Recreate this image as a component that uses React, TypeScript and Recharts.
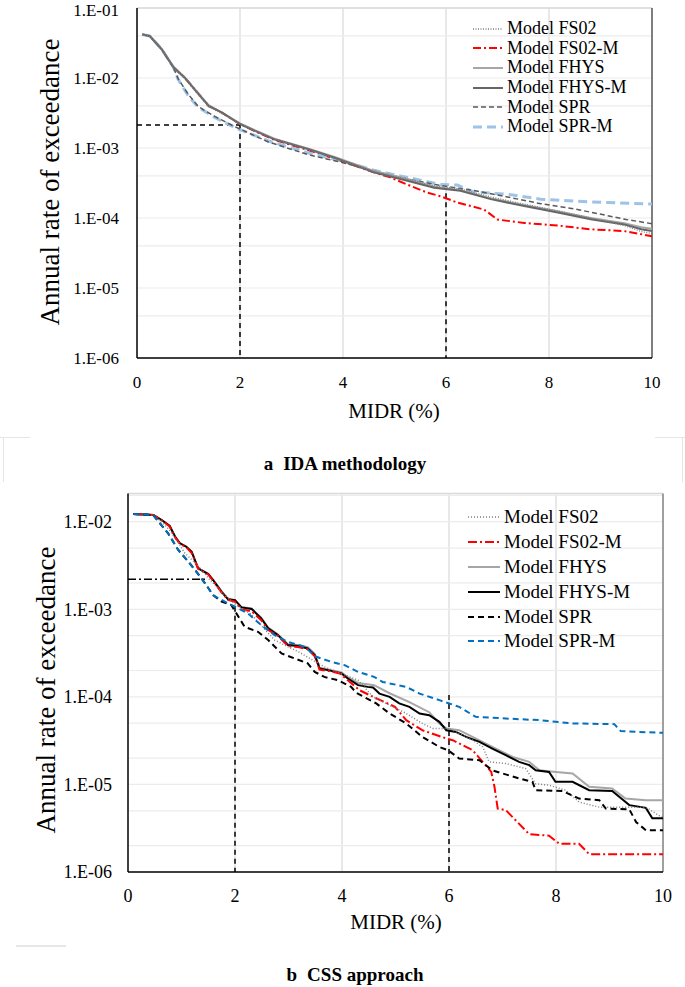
import React from "react";
import { LineChart, Line, XAxis, YAxis, CartesianGrid, ReferenceLine } from "recharts";

type Pt = [number, number];

// ---- panel a : IDA methodology (MIDR %, annual rate)
const A_FS02: Pt[] = [[0.1, 0.042], [0.25, 0.0398], [0.48, 0.0255], [0.71, 0.014], [0.93, 0.0098], [1.17, 0.006], [1.39, 0.0039], [1.65, 0.0031], [2.0, 0.00222], [2.3, 0.00176], [2.68, 0.00134], [3.33, 0.00094], [3.85, 0.00071], [4.6, 0.00046], [5.25, 0.00036], [5.77, 0.00029], [6.28, 0.00026], [6.87, 0.0002], [7.52, 0.000158], [8.17, 0.000126], [8.81, 0.0001], [9.46, 0.000078], [9.79, 0.000064], [10, 0.00006]];
const A_FS02_M: Pt[] = [[0.1, 0.042], [0.25, 0.0398], [0.48, 0.0257], [0.71, 0.0143], [0.93, 0.0101], [1.17, 0.0063], [1.39, 0.004], [1.65, 0.0032], [2.0, 0.0022], [2.3, 0.00172], [2.68, 0.0013], [3.33, 0.00093], [3.85, 0.0007], [4.6, 0.00045], [4.92, 0.00038], [5.25, 0.0003], [5.64, 0.00023], [5.9, 0.000204], [6.22, 0.000166], [6.74, 0.000132], [7.0, 0.000095], [7.52, 0.000085], [8.17, 0.000078], [8.81, 0.000069], [9.46, 0.000065], [10, 0.000055]];
const A_FHYS: Pt[] = [[0.1, 0.042], [0.25, 0.0398], [0.48, 0.026], [0.71, 0.0145], [0.93, 0.0102], [1.17, 0.0063], [1.39, 0.0041], [1.65, 0.0032], [2.0, 0.00225], [2.3, 0.00178], [2.68, 0.00135], [3.33, 0.00098], [3.85, 0.00074], [4.6, 0.00047], [5.25, 0.00036], [5.77, 0.00028], [6.28, 0.00025], [6.87, 0.00019], [7.52, 0.000152], [8.17, 0.000125], [8.81, 0.0001], [9.46, 0.000084], [9.79, 0.000074], [10, 0.00007]];
const A_FHYS_M: Pt[] = [[0.1, 0.042], [0.25, 0.0395], [0.48, 0.0257], [0.71, 0.0141], [0.93, 0.01], [1.17, 0.0062], [1.39, 0.004], [1.65, 0.0032], [2.0, 0.0022], [2.3, 0.00174], [2.68, 0.00132], [3.33, 0.00096], [3.85, 0.00072], [4.6, 0.00045], [5.25, 0.00034], [5.77, 0.00027], [6.28, 0.000245], [6.87, 0.000186], [7.52, 0.000148], [8.17, 0.00012], [8.81, 0.000096], [9.46, 0.000081], [9.79, 0.000069], [10, 0.000065]];
const A_SPR: Pt[] = [[0.1, 0.042], [0.25, 0.0395], [0.48, 0.0255], [0.71, 0.014], [0.8, 0.0097], [1.0, 0.0058], [1.19, 0.0039], [1.52, 0.0028], [1.91, 0.002], [2.55, 0.00122], [3.33, 0.0008], [3.95, 0.00063], [4.6, 0.00047], [5.25, 0.00036], [5.9, 0.00029], [6.5, 0.00025], [7.19, 0.0002], [7.84, 0.00016], [8.49, 0.000135], [9.14, 0.000108], [9.5, 0.000095], [10, 0.000083]];
const A_SPR_M: Pt[] = [[0.1, 0.042], [0.25, 0.0398], [0.48, 0.0257], [0.71, 0.0141], [0.8, 0.0095], [1.0, 0.0055], [1.19, 0.0038], [1.52, 0.0027], [1.91, 0.00195], [2.55, 0.00126], [3.33, 0.00085], [3.95, 0.00066], [4.6, 0.00048], [5.25, 0.00038], [5.9, 0.0003], [6.22, 0.000295], [6.54, 0.000234], [7.19, 0.000219], [7.84, 0.000186], [8.49, 0.000174], [9.14, 0.000166], [10, 0.000158]];
// dashed guides of panel a
const A_GUIDE_H: Pt[] = [[0, 0.00213], [2, 0.00213]];
const A_GUIDE_V2: Pt[] = [[2, 0.00213], [2, 1e-6]];
const A_GUIDE_V6: Pt[] = [[6, 0.000225], [6, 1e-6]];

// ---- panel b : CSS approach
const B_FS02: Pt[] = [[0.1, 0.01225], [0.47, 0.0119], [0.63, 0.01], [0.78, 0.008], [0.97, 0.00542], [1.06, 0.00439], [1.3, 0.0032], [1.5, 0.00228], [1.75, 0.00157], [2.0, 0.00115], [2.3, 0.00088], [2.74, 0.000445], [3.2, 0.000324], [3.67, 0.00022], [4.3, 0.000155], [4.58, 0.0001], [5.2, 0.0000646], [5.5, 0.0000497], [5.7, 0.0000436], [6.0, 0.0000436], [6.19, 0.0000382], [6.44, 0.000032], [6.63, 0.0000268], [6.75, 0.0000181], [7.06, 0.0000173], [7.43, 0.0000152], [7.62, 0.0000102], [7.87, 0.0000098], [8.18, 0.0000086], [8.43, 0.0000063], [8.81, 0.0000055], [9.68, 0.0000055], [9.93, 0.0000044], [10, 0.0000043]];
const B_FS02_M: Pt[] = [[0.1, 0.01225], [0.47, 0.01194], [0.63, 0.0104], [0.78, 0.0088], [0.88, 0.0066], [0.97, 0.0056], [1.09, 0.0051], [1.19, 0.0044], [1.31, 0.0029], [1.5, 0.0025], [1.59, 0.00212], [1.75, 0.00155], [1.87, 0.00128], [2.0, 0.00122], [2.12, 0.001], [2.31, 0.00095], [2.49, 0.00075], [2.62, 0.00058], [2.8, 0.0005], [2.99, 0.00038], [3.18, 0.00037], [3.36, 0.00035], [3.49, 0.00029], [3.58, 0.000205], [3.8, 0.000195], [3.96, 0.000185], [4.33, 0.000119], [4.58, 0.0001], [4.99, 0.0000769], [5.2, 0.0000542], [5.5, 0.0000416], [5.95, 0.0000335], [6.07, 0.000032], [6.44, 0.0000246], [6.63, 0.0000181], [6.79, 0.0000139], [6.85, 0.0000094], [6.91, 0.0000053], [7.06, 0.0000051], [7.5, 0.0000027], [7.87, 0.0000026], [8.06, 0.0000021], [8.43, 0.0000021], [8.62, 0.0000016], [10, 0.0000016]];
const B_FHYS: Pt[] = [[0.1, 0.01225], [0.47, 0.01194], [0.63, 0.01045], [0.78, 0.00893], [0.88, 0.0068], [0.97, 0.0057], [1.09, 0.0052], [1.19, 0.00456], [1.31, 0.00295], [1.5, 0.00254], [1.59, 0.00218], [1.75, 0.0016], [1.87, 0.00131], [2.0, 0.00128], [2.12, 0.00106], [2.31, 0.00102], [2.49, 0.0008], [2.62, 0.00062], [2.8, 0.00052], [2.99, 0.0004], [3.18, 0.00039], [3.36, 0.00037], [3.49, 0.00031], [3.58, 0.000215], [3.8, 0.000202], [3.99, 0.00019], [4.11, 0.000168], [4.3, 0.000144], [4.6, 0.000136], [4.89, 0.00011], [5.26, 0.0000869], [5.63, 0.0000668], [5.82, 0.0000497], [5.95, 0.0000436], [6.19, 0.0000416], [6.44, 0.0000349], [6.81, 0.0000268], [7.19, 0.0000206], [7.5, 0.0000181], [7.69, 0.0000145], [8.0, 0.0000139], [8.31, 0.0000133], [8.62, 0.0000094], [9.05, 0.000009], [9.3, 0.0000069], [9.68, 0.0000066], [10, 0.0000066]];
const B_FHYS_M: Pt[] = [[0.1, 0.01225], [0.47, 0.01194], [0.63, 0.01045], [0.78, 0.00893], [0.88, 0.00674], [0.97, 0.00567], [1.09, 0.00518], [1.19, 0.00454], [1.31, 0.00293], [1.5, 0.00252], [1.59, 0.00216], [1.75, 0.00158], [1.87, 0.0013], [2.0, 0.00127], [2.12, 0.00105], [2.31, 0.00101], [2.49, 0.000787], [2.62, 0.000605], [2.8, 0.000507], [2.99, 0.00039], [3.18, 0.00038], [3.36, 0.000357], [3.49, 0.0003], [3.58, 0.000211], [3.8, 0.000198], [3.99, 0.000185], [4.11, 0.000162], [4.3, 0.000136], [4.48, 0.00013], [4.58, 0.000128], [4.7, 0.000109], [4.89, 0.0001], [5.07, 0.0000841], [5.26, 0.0000769], [5.45, 0.0000646], [5.63, 0.0000618], [5.82, 0.0000518], [5.95, 0.0000416], [6.13, 0.0000398], [6.32, 0.0000349], [6.57, 0.0000306], [6.81, 0.0000257], [7.06, 0.0000216], [7.31, 0.0000181], [7.5, 0.0000166], [7.62, 0.0000145], [7.87, 0.0000139], [7.99, 0.0000107], [8.31, 0.0000107], [8.62, 0.0000086], [9.05, 0.0000084], [9.37, 0.0000058], [9.68, 0.0000054], [9.8, 0.0000041], [10, 0.0000041]];
const B_SPR: Pt[] = [[0.1, 0.01225], [0.47, 0.01194], [0.75, 0.00737], [0.94, 0.00475], [1.13, 0.00349], [1.28, 0.00268], [1.44, 0.00198], [1.59, 0.00145], [1.75, 0.00122], [1.93, 0.00112], [2.18, 0.000631], [2.43, 0.000553], [2.62, 0.000445], [2.87, 0.000313], [3.11, 0.000275], [3.36, 0.000241], [3.49, 0.000193], [3.67, 0.000169], [3.92, 0.000155], [4.17, 0.00013], [4.27, 0.000111], [4.64, 0.0000841], [4.89, 0.0000646], [5.2, 0.0000497], [5.5, 0.0000349], [5.82, 0.0000268], [5.98, 0.0000246], [6.19, 0.0000198], [6.57, 0.0000189], [6.81, 0.0000145], [7.31, 0.0000117], [7.56, 0.0000107], [7.62, 0.0000086], [8.12, 0.0000084], [8.43, 0.0000069], [8.81, 0.0000066], [8.93, 0.0000053], [9.37, 0.0000052], [9.5, 0.0000037], [9.68, 0.000003], [10, 0.000003]];
const B_SPR_M: Pt[] = [[0.1, 0.01225], [0.47, 0.01194], [0.75, 0.00737], [0.94, 0.00475], [1.13, 0.00349], [1.28, 0.00268], [1.44, 0.00198], [1.59, 0.00145], [1.81, 0.00122], [2.0, 0.00107], [2.24, 0.000898], [2.49, 0.000659], [2.74, 0.000507], [2.99, 0.000425], [3.3, 0.000373], [3.52, 0.000287], [3.8, 0.000251], [4.05, 0.00023], [4.3, 0.000193], [4.6, 0.000169], [4.76, 0.000148], [5.2, 0.00013], [5.45, 0.000109], [5.82, 0.0000917], [6.19, 0.0000769], [6.5, 0.0000591], [7.06, 0.0000566], [7.69, 0.0000542], [8.31, 0.0000497], [9.09, 0.0000488], [9.21, 0.0000406], [10, 0.0000388]];
const B_GUIDE_H: Pt[] = [[0, 0.0022], [1.49, 0.0022]];
const B_GUIDE_V2: Pt[] = [[2, 0.00107], [2, 1e-6]];
const B_GUIDE_V6: Pt[] = [[6, 0.000105], [6, 1e-6]];

const X_TICKS = [0, 2, 4, 6, 8, 10];
const A_Y_TICKS = [1e-6, 1e-5, 1e-4, 1e-3, 1e-2, 1e-1];
const B_Y_TICKS = [1e-6, 1e-5, 1e-4, 1e-3, 1e-2];
const LEGEND_NAMES = ["Model FS02", "Model FS02-M", "Model FHYS", "Model FHYS-M", "Model SPR", "Model SPR-M"];

const SERIF = "'Liberation Serif', 'DejaVu Serif', 'Noto Serif', Times, serif";

interface Style { stroke: string; width: number; dash?: string }

const A_STYLES: Style[] = [
  { stroke: "#7f7f7f", width: 1.3, dash: "1 1.5" },
  { stroke: "#ff0000", width: 2, dash: "8 3 2 3" },
  { stroke: "#a6a6a6", width: 2 },
  { stroke: "#666666", width: 2 },
  { stroke: "#595959", width: 1.5, dash: "5 3" },
  { stroke: "#9dc3e6", width: 3, dash: "9 5" },
];
const B_STYLES: Style[] = [
  { stroke: "#7f7f7f", width: 1.5, dash: "1 2" },
  { stroke: "#ff0000", width: 2, dash: "9 3 2 3" },
  { stroke: "#a6a6a6", width: 2 },
  { stroke: "#000000", width: 2 },
  { stroke: "#000000", width: 2, dash: "6 4" },
  { stroke: "#0070c0", width: 2, dash: "6 4" },
];

const rows = (pts: Pt[]) => pts.map(([x, y]) => ({ x, y }));

// light minor lines of the log axis (2..9 x 10^n)
function logGrid(lo: number, hi: number) {
  const out: number[] = [];
  for (let e = Math.floor(Math.log10(lo)); e <= Math.ceil(Math.log10(hi)); e++) {
    for (let k = 1; k <= 9; k++) {
      const v = k * Math.pow(10, e);
      if (v >= lo && v <= hi) out.push(v);
    }
  }
  return out;
}

const fmtExp = (v: number) => {
  const e = Math.round(Math.log10(v));
  return `1.E${e < 0 ? "-" : "+"}${String(Math.abs(e)).padStart(2, "0")}`;
};

function Legend({ styles, left, top, rowH, fontSize, sampleW, gap }: {
  styles: Style[]; left: number; top: number; rowH: number; fontSize: number; sampleW: number; gap: number;
}) {
  return (
    <div style={{ position: "absolute", left, top, fontFamily: SERIF, fontSize, color: "#000" }}>
      {LEGEND_NAMES.map((name, i) => (
        <div key={name} style={{ position: "absolute", top: i * rowH, left: 0, height: rowH, display: "flex", alignItems: "center", whiteSpace: "nowrap" }}>
          <svg width={sampleW} height={8} style={{ marginRight: gap }}>
            <line x1={0} y1={4} x2={sampleW} y2={4} stroke={styles[i].stroke} strokeWidth={styles[i].width} strokeDasharray={styles[i].dash} />
          </svg>
          <span>{name}</span>
        </div>
      ))}
    </div>
  );
}

function Panel({ series, styles, guides, guideDash, hDash, yTop, yTicks, width, height, margin, yAxisW, xAxisH, tickFont, xTickMargin, yTickMargin, rightStroke }: any) {
  return (
    <LineChart width={width} height={height} margin={margin} style={{ fontFamily: SERIF }}>
      <CartesianGrid horizontal={false} verticalValues={[2, 4, 6, 8]} stroke="#d9d9d9" strokeWidth={1.2} />
      <CartesianGrid vertical={false} horizontalValues={logGrid(1e-6, yTop)} stroke="#ececec" strokeWidth={1.2} />
      <XAxis
        dataKey="x"
        type="number"
        domain={[0, 10]}
        ticks={X_TICKS}
        allowDataOverflow
        height={xAxisH}
        tickSize={0}
        tickMargin={xTickMargin}
        tick={{ fontSize: tickFont, fontFamily: SERIF, fill: "#000" }}
        axisLine={{ stroke: "#000", strokeWidth: 1.5 }}
        tickLine={false}
      />
      <YAxis
        type="number"
        scale="log"
        domain={[1e-6, yTop]}
        ticks={yTicks}
        allowDataOverflow
        width={yAxisW}
        tickSize={0}
        tickMargin={yTickMargin}
        tickFormatter={fmtExp}
        tick={{ fontSize: tickFont, fontFamily: SERIF, fill: "#000" }}
        axisLine={{ stroke: "#000", strokeWidth: 1.5 }}
        tickLine={false}
      />
      <ReferenceLine y={yTop} stroke="#d9d9d9" strokeWidth={1.5} />
      <ReferenceLine x={10} stroke={rightStroke} strokeWidth={1.5} />
      {guides.map((g: Pt[], i: number) => (
        <Line key={"g" + i} data={rows(g)} dataKey="y" type="linear" stroke="#000" strokeWidth={1.5} strokeDasharray={i === 0 ? hDash : guideDash} dot={false} isAnimationActive={false} />
      ))}
      {series.map(([idx, pts]: [number, Pt[]]) => (
        <Line
          key={LEGEND_NAMES[idx]}
          name={LEGEND_NAMES[idx]}
          data={rows(pts)}
          dataKey="y"
          type="linear"
          stroke={styles[idx].stroke}
          strokeWidth={styles[idx].width}
          strokeDasharray={styles[idx].dash}
          dot={false}
          isAnimationActive={false}
        />
      ))}
    </LineChart>
  );
}

const abs = (left: number, top: number, extra: React.CSSProperties = {}): React.CSSProperties => ({ position: "absolute", left, top, ...extra });

export default function App() {
  return (
    <div style={{ position: "absolute", left: 0, top: 0, width: 685, height: 987, background: "#fff", fontFamily: SERIF, overflow: "hidden" }}>
      {/* panel a */}
      <div style={abs(0, 0)}>
        <Panel
          series={[[1, A_FS02_M], [5, A_SPR_M], [4, A_SPR], [2, A_FHYS], [3, A_FHYS_M], [0, A_FS02]]}
          styles={A_STYLES}
          guides={[A_GUIDE_H, A_GUIDE_V2, A_GUIDE_V6]}
          guideDash="5 4"
          hDash="5 4"
          yTop={0.1}
          yTicks={A_Y_TICKS}
          width={685}
          height={430}
          margin={{ top: 8, right: 33, left: 0, bottom: 0 }}
          yAxisW={137}
          xAxisH={72}
          tickFont={17}
          xTickMargin={18}
          yTickMargin={18}
          rightStroke="#555555"
        />
      </div>
      <Legend styles={A_STYLES} left={473} top={19} rowH={19.6} fontSize={18} sampleW={30} gap={4} />
      <div style={abs(50, 182, { transform: "translate(-50%, -50%) rotate(-90deg)", fontSize: 27, whiteSpace: "nowrap" })}>Annual rate of exceedance</div>
      <div style={abs(394, 411, { transform: "translate(-50%, -50%)", fontSize: 21, whiteSpace: "nowrap" })}>MIDR (%)</div>
      <div style={abs(345, 464, { transform: "translate(-50%, -50%)", fontSize: 19, fontWeight: "bold", whiteSpace: "nowrap" })}>
        <span>a</span><span style={{ marginLeft: 10 }}>IDA methodology</span>
      </div>
      {/* faint figure frame between panels */}
      <div style={abs(0, 437, { width: 30, height: 1, background: "#e6e6e6" })} />
      <div style={abs(655, 437, { width: 30, height: 1, background: "#e6e6e6" })} />
      <div style={abs(3, 437, { width: 1, height: 45, background: "#e6e6e6" })} />
      <div style={abs(682, 437, { width: 1, height: 45, background: "#e6e6e6" })} />

      {/* panel b */}
      <div style={abs(0, 480)}>
        <Panel
          series={[[2, B_FHYS], [3, B_FHYS_M], [1, B_FS02_M], [0, B_FS02], [4, B_SPR], [5, B_SPR_M]]}
          styles={B_STYLES}
          guides={[B_GUIDE_H, B_GUIDE_V2, B_GUIDE_V6]}
          guideDash="5 4"
          hDash="8 3 2 3"
          yTop={0.021}
          yTicks={B_Y_TICKS}
          width={685}
          height={450}
          margin={{ top: 13.5, right: 22, left: 0, bottom: 0 }}
          yAxisW={128}
          xAxisH={58}
          tickFont={18}
          xTickMargin={17}
          yTickMargin={16}
          rightStroke="#808080"
        />
      </div>
      <Legend styles={B_STYLES} left={468} top={505} rowH={24.8} fontSize={19} sampleW={32} gap={4} />
      <div style={abs(46, 690, { transform: "translate(-50%, -50%) rotate(-90deg)", fontSize: 27, whiteSpace: "nowrap" })}>Annual rate of exceedance</div>
      <div style={abs(396, 922, { transform: "translate(-50%, -50%)", fontSize: 21, whiteSpace: "nowrap" })}>MIDR (%)</div>
      <div style={abs(355, 975, { transform: "translate(-50%, -50%)", fontSize: 19, fontWeight: "bold", whiteSpace: "nowrap" })}>
        <span>b</span><span style={{ marginLeft: 10 }}>CSS approach</span>
      </div>
      <div style={abs(16, 945, { width: 50, height: 2, background: "#e6e6e6" })} />
    </div>
  );
}
